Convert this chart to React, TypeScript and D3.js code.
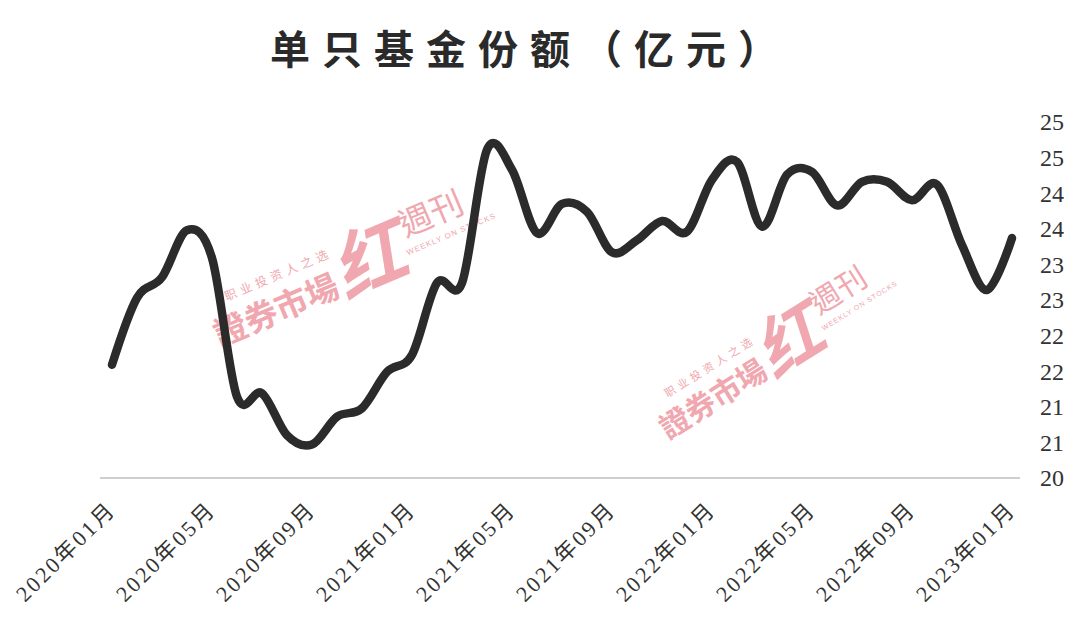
import React from "react";
import * as d3 from "d3";

const months: string[] = [
  "2020-01", "2020-02", "2020-03", "2020-04", "2020-05", "2020-06", "2020-07", "2020-08", "2020-09", "2020-10", "2020-11", "2020-12",
  "2021-01", "2021-02", "2021-03", "2021-04", "2021-05", "2021-06", "2021-07", "2021-08", "2021-09", "2021-10", "2021-11", "2021-12",
  "2022-01", "2022-02", "2022-03", "2022-04", "2022-05", "2022-06", "2022-07", "2022-08", "2022-09", "2022-10", "2022-11", "2022-12",
  "2023-01",
];

const values: number[] = [
  21.59, 22.53, 22.82, 23.48, 23.09, 21.14, 21.19, 20.6, 20.47, 20.86, 20.98, 21.49,
  21.73, 22.74, 22.74, 24.61, 24.33, 23.44, 23.85, 23.74, 23.17, 23.34, 23.61, 23.46,
  24.19, 24.44, 23.53, 24.26, 24.3, 23.83, 24.16, 24.16, 23.9, 24.12, 23.27, 22.64,
  23.37,
];

const xTickMonths: string[] = ["2020-01", "2020-05", "2020-09", "2021-01", "2021-05", "2021-09", "2022-01", "2022-05", "2022-09", "2023-01"];
const xTickLabels: string[] = ["2020年01月", "2020年05月", "2020年09月", "2021年01月", "2021年05月", "2021年09月", "2022年01月", "2022年05月", "2022年09月", "2023年01月"];

const yTickValues: number[] = [20, 20.5, 21, 21.5, 22, 22.5, 23, 23.5, 24, 24.5, 25];
const yTickLabels: string[] = ["20", "21", "21", "22", "22", "23", "23", "24", "24", "25", "25"];

const title = "单只基金份额（亿元）";

const W = 1080;
const H = 621;

function Watermark({ x, y, angle, s }: { x: number; y: number; angle: number; s: number }) {
  const pink = "#f0a3ab";
  return (
    <g transform={`translate(${x},${y}) rotate(${angle}) scale(${s})`} fill={pink} opacity={0.95}>
      <text x={22} y={-36} fontSize={11} letterSpacing={4} fontFamily="Noto Sans CJK SC">职业投资人之选</text>
      <text x={0} y={0} fontSize={30} fontWeight={700} fontFamily="Noto Sans CJK TC">證券市場</text>
      <text x={122} y={4} fontSize={66} fontWeight={700} fontStyle="italic" fontFamily="Noto Sans CJK SC">红</text>
      <text x={194} y={-26} fontSize={30} fontFamily="Noto Sans CJK TC">週刊</text>
      <text x={190} y={-10} fontSize={7} letterSpacing={1} fontFamily="Liberation Sans">WEEKLY ON STOCKS</text>
    </g>
  );
}

export default function App() {
  const x = d3.scalePoint<string>().domain(months).range([112, 1012]);
  const y = d3.scaleLinear().domain([20, 25]).range([478, 122]);

  const line = d3
    .line<number>()
    .x((_, i) => x(months[i]) as number)
    .y((d) => y(d))
    .curve(d3.curveCardinal.tension(0));

  return (
    <svg
      width={W}
      height={H}
      viewBox={`0 0 ${W} ${H}`}
      style={{ position: "absolute", left: 0, top: 0, background: "#ffffff" }}
    >
      <rect x={0} y={0} width={W} height={H} fill="#ffffff" />
      <text
        x={530}
        y={64}
        textAnchor="middle"
        fontSize={40}
        fontWeight={700}
        letterSpacing={12}
        fill="#2a2a2a"
        fontFamily="Noto Sans CJK SC"
      >
        {title}
      </text>

      <Watermark x={220} y={347} angle={-23} s={1.1} />
      <Watermark x={668} y={440} angle={-32} s={1} />

      <line x1={100} x2={1020} y1={y(20)} y2={y(20)} stroke="#cfcfcf" strokeWidth={2} />

      {yTickValues.map((v, i) => (
        <text
          key={i}
          x={1040}
          y={y(v)}
          dy="0.35em"
          fontSize={24}
          fill="#333"
          fontFamily="Liberation Serif"
        >
          {yTickLabels[i]}
        </text>
      ))}

      {xTickMonths.map((m, i) => (
        <text
          key={m}
          transform={`translate(${(x(m) as number) + 5},${511}) rotate(-45)`}
          textAnchor="end"
          fontSize={22}
          letterSpacing={2.5}
          fill="#333"
          fontFamily="Liberation Serif, Noto Sans CJK SC"
        >
          {xTickLabels[i]}
        </text>
      ))}

      <path
        d={line(values) || ""}
        fill="none"
        stroke="#2b2b2b"
        strokeWidth={8.5}
        strokeLinecap="round"
        strokeLinejoin="round"
      />
    </svg>
  );
}
